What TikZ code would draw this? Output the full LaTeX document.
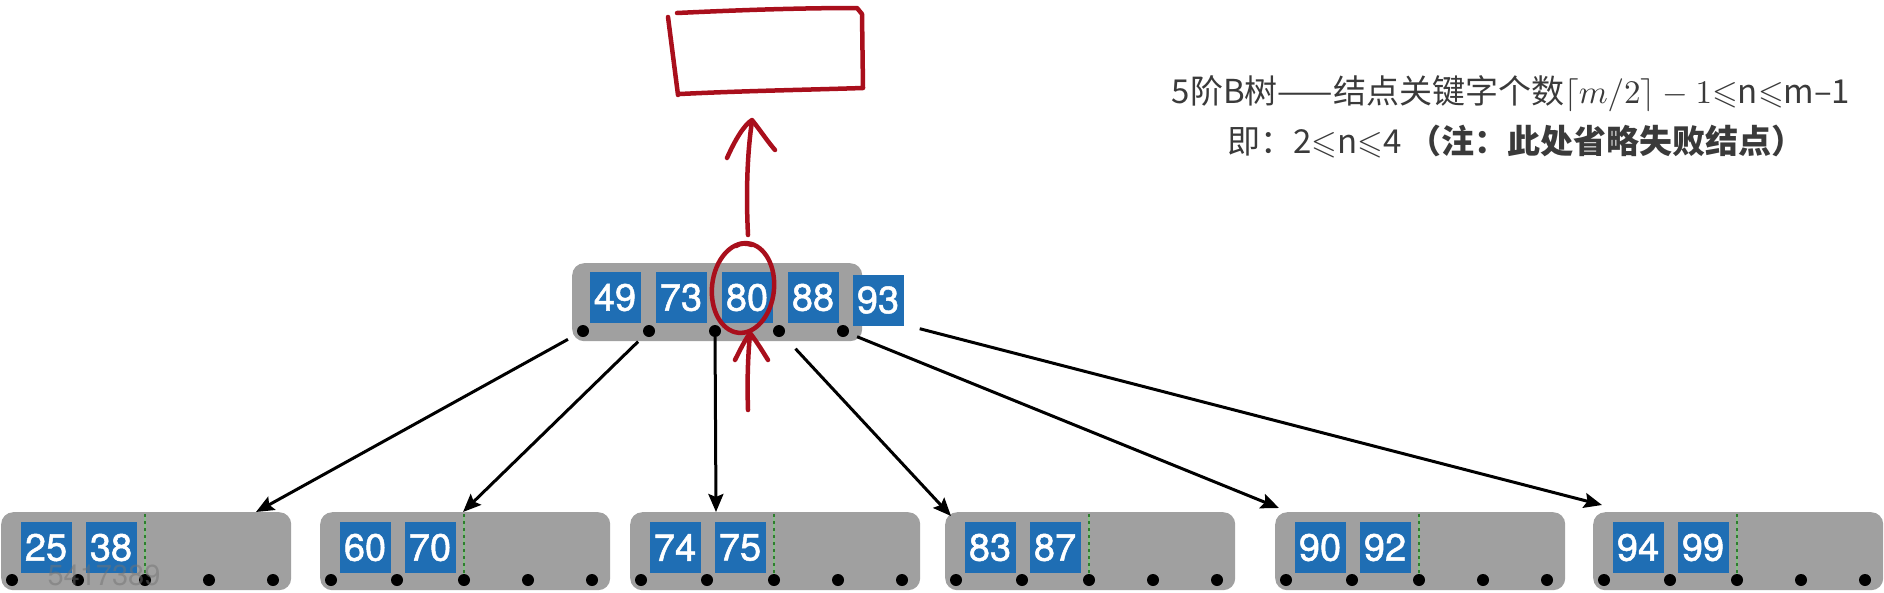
\documentclass[tikz,border=0pt]{standalone}
\usepackage{amssymb}
\DeclareFontFamily{U}{msa}{}
\DeclareFontShape{U}{msa}{m}{n}{<-> msam10}{}
\DeclareFontShape{OML}{cmm}{m}{it}{<-> cmmi10}{}
\DeclareFontShape{OMS}{cmsy}{m}{n}{<-> cmsy10}{}
\DeclareFontShape{OT1}{cmr}{m}{n}{<-> cmr10}{}
\usepackage{fontspec}
\setmainfont{TeX Gyre Heros}
\newfontfamily\cjk{Noto Sans CJK SC}
\newfontfamily\keyfont{TeX Gyre Heros}[FakeBold=1.3]
\usetikzlibrary{arrows.meta,calc}
\definecolor{nodegray}{HTML}{A0A0A0}
\definecolor{keyblue}{HTML}{1F6EB4}
\definecolor{txtgray}{HTML}{3A3A3A}
\definecolor{penred}{HTML}{A90F1C}
\definecolor{darkgreen}{HTML}{2E7D2E}
\definecolor{lightgreen}{HTML}{86BF86}
\tikzset{
  bnode/.style={fill=nodegray, rounded corners=12pt, minimum width=290pt, minimum height=78pt, inner sep=0pt, anchor=north west},
  keybox/.style={fill=keyblue, text=white, minimum width=51pt, minimum height=51pt, inner sep=0pt, font=\keyfont\fontsize{38}{40}\selectfont},
  ptr/.style={circle, fill=black, minimum size=12pt, inner sep=0pt},
  link/.style={-{Stealth[length=18pt,width=15pt,inset=3pt]}, line width=3pt},
  gline/.style={lightgreen, line width=2.5pt},
  gdots/.style={darkgreen, line width=2.5pt, dash pattern=on 2.5pt off 4.5pt},
  pen/.style={penred, line width=4.5pt, line cap=round, line join=round},
  txt/.style={text=txtgray, font=\fontsize{33}{38}\selectfont, inner sep=0pt}
}
\begin{document}
\begin{tikzpicture}[x=1pt,y=-1pt]
\useasboundingbox (0,0) rectangle (1884,592);
% top node
\node[bnode] (top) at (572,263) {};
\foreach \k/\x/\y/\v in {1/615/297.5/49, 2/681/297.5/73, 3/747/297.5/80, 4/813/297.5/88, 5/878/300/93}
  \node[keybox] (top-k\k) at (\x,\y) {\v};
\foreach \i/\d in {1/11,2/77,3/143,4/207,5/271}
  \node[ptr] (top-p\i) at ({572+\d},331) {};
% children
\foreach \n/\x/\a/\b in {c1/1/25/38, c2/320/60/70, c3/630/74/75, c4/945/83/87, c5/1275/90/92, c6/1593/94/99} {
  \node[bnode] (\n) at (\x,512) {};
  \node[keybox] (\n-a) at ({\x+45},547.5) {\a};
  \node[keybox] (\n-b) at ({\x+110},547.5) {\b};
  \draw[gline] ({\x+144},514) -- ({\x+144},574);
  \draw[gdots] ({\x+144},514) -- ({\x+144},574);
  \foreach \i/\d in {1/11,2/77,3/144,4/208,5/272}
    \node[ptr] (\n-p\i) at ({\x+\d},580) {};
}
% links
\draw[link, shorten <=11pt] (top-p1) -- ($(c1.north west)+(255,0)$);
\draw[link, shorten <=9pt] (top-p2) -- ($(c2.north west)+(143,0)$);
\draw[link] (top-p3) -- ($(c3.north west)+(86,0)$);
\draw[link, shorten <=18pt] (top-p4) -- ($(c4.north west)+(6,4)$);
\draw[link, shorten <=9pt] (top-p5) -- ($(c5.north west)+(4,-4)$);
\draw[link] ($(top-k5.south east)+(16,3)$) -- ($(c6.north west)+(9,-7)$);
% watermark
\node[text=black!55, opacity=0.5, font=\fontsize{29}{29}\selectfont, inner sep=0pt] (wm) at (104,575) {5417389};
% text
\node[txt] (l1) at (1511,94) {\cjk 5阶B树——结点关键字个数$\lceil m/2\rceil - 1$$\leqslant$n$\leqslant$m–1};
\node[txt] (l2) at (1516,142) {\cjk 即：2$\leqslant$n$\leqslant$4 {\bfseries （注：此处省略失败结点）}};
% red pen marks
\draw[pen] (677,13) .. controls (740,10) and (800,8) .. (857,8) -- (862,14) -- (863,88) .. controls (800,90) and (740,91) .. (680,94);
\draw[pen] (668,17) -- (678,95);
\draw[pen] (748,235) .. controls (746,195) and (747,155) .. (752,121);
\draw[pen] (727,158) .. controls (735,140) and (744,125) .. (752,120) .. controls (760,130) and (768,142) .. (775,150);
\draw[pen, rotate around={-6:(743,288)}] (743,288) ellipse [x radius=31, y radius=45];
\draw[pen] (736,246) .. controls (740,243) and (746,243) .. (752,245);
\draw[pen] (748,410) .. controls (747,380) and (748,355) .. (750,334);
\draw[pen] (735,360) .. controls (740,350) and (745,340) .. (750,333) .. controls (757,342) and (763,352) .. (768,360);
\end{tikzpicture}
\end{document}
